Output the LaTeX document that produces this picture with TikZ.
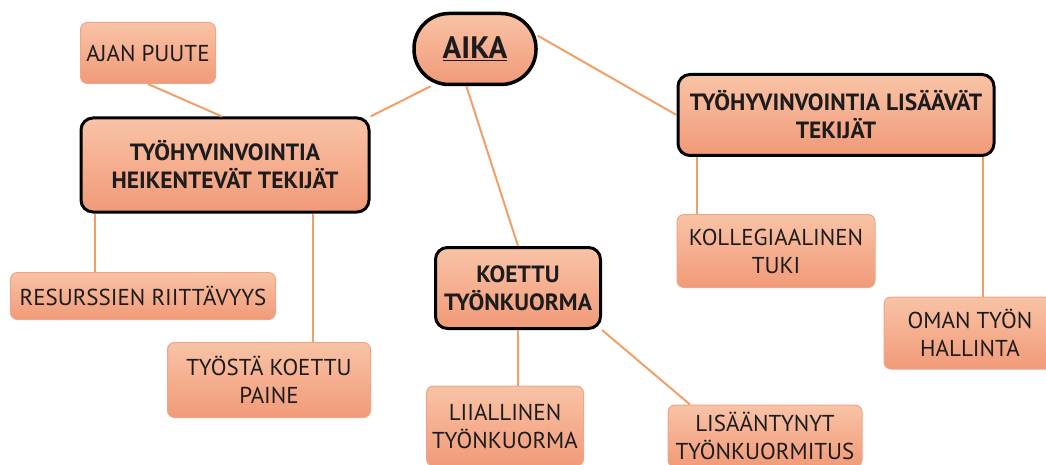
\documentclass[tikz,border=0pt]{standalone}
\usepackage{fontspec}
\setmainfont{PT Sans}
\usepackage{tikz}
\definecolor{boxtop}{HTML}{F9C3A6}
\definecolor{boxbot}{HTML}{F19A78}
\definecolor{boxedge}{HTML}{EFA587}
\definecolor{linkcol}{HTML}{F0A066}
\definecolor{inkcol}{HTML}{1C1C1C}
\tikzset{
  plainbox/.style={
    draw=boxedge,
    line width=1pt,
    rounded corners=7pt,
    top color=boxtop,
    bottom color=boxbot,
    align=center,
    text=inkcol,
    font=\fontsize{23}{28}\selectfont,
    inner sep=0pt
  },
  mainbox/.style={
    draw=black,
    line width=3pt,
    rounded corners=12pt,
    top color=boxtop,
    bottom color=boxbot,
    align=center,
    text=inkcol,
    font=\fontsize{23.5}{28}\selectfont\bfseries,
    inner sep=0pt
  },
  blob/.style={
    draw=black,
    line width=3.5pt,
    rounded corners=35pt,
    top color=boxtop,
    bottom color=boxbot,
    text=inkcol,
    inner sep=0pt,
    font=\fontsize{31}{32}\selectfont\bfseries
  },
  link/.style={draw=linkcol,line width=2pt}
}

\begin{document}
\begin{tikzpicture}[x=1pt,y=-1pt]
  \useasboundingbox (0,0) rectangle (1046,465);
  \node[blob,minimum width=122pt,minimum height=71pt] (aika) at (475,49) {\underline{AIKA}};
  \node[plainbox,minimum width=135pt,minimum height=61pt] (puute) at (148,53) {AJAN PUUTE};
  \node[mainbox,minimum width=288pt,minimum height=94pt] (heik) at (225,165) {TYÖHYVINVOINTIA\\HEIKENTEVÄT TEKIJÄT};
  \node[mainbox,minimum width=316pt,minimum height=81pt] (lisaa) at (836,115) {TYÖHYVINVOINTIA LISÄÄVÄT\\TEKIJÄT};
  \node[mainbox,minimum width=165pt,minimum height=81pt] (koettu) at (518,288) {KOETTU\\TYÖNKUORMA};
  \node[plainbox,minimum width=198pt,minimum height=73pt] (tuki) at (776,251) {KOLLEGIAALINEN\\TUKI};
  \node[plainbox,minimum width=265pt,minimum height=47pt] (resurssit) at (143,296) {RESURSSIEN RIITTÄVYYS};
  \node[plainbox,minimum width=203pt,minimum height=75pt] (paine) at (269,380) {TYÖSTÄ KOETTU\\PAINE};
  \node[plainbox,minimum width=172pt,minimum height=72pt] (hallinta) at (970,333) {OMAN TYÖN\\HALLINTA};
  \node[plainbox,minimum width=157pt,minimum height=80pt] (liiallinen) at (505,426) {LIIALLINEN\\TYÖNKUORMA};
  \node[plainbox,minimum width=194pt,minimum height=62pt] (lisaantynyt) at (765,436) {LISÄÄNTYNYT\\TYÖNKUORMITUS};
  \draw[link] (puute.south) -- ([xshift=-3pt]heik.north);
  \draw[link] (aika.220) -- (heik.north east);
  \draw[link] (aika.257) -- (koettu.north);
  \draw[link] (aika.12) -- (lisaa.west);
  \draw[link] ([xshift=15pt]heik.south west) -- ([xshift=15pt]heik.south west |- resurssit.north);
  \draw[link] ([xshift=-58pt]heik.south east) -- ([xshift=-58pt]heik.south east |- paine.north);
  \draw[link] ([xshift=20pt]lisaa.south west) -- ([xshift=20pt]lisaa.south west |- tuki.north);
  \draw[link] ([xshift=-13pt]lisaa.south east) -- ([xshift=-13pt]lisaa.south east |- hallinta.north);
  \draw[link] (koettu.south) -- (koettu.south |- liiallinen.north);
  \draw[link] (koettu.south east) -- ([xshift=-75pt]lisaantynyt.north);
\end{tikzpicture}
\end{document}
